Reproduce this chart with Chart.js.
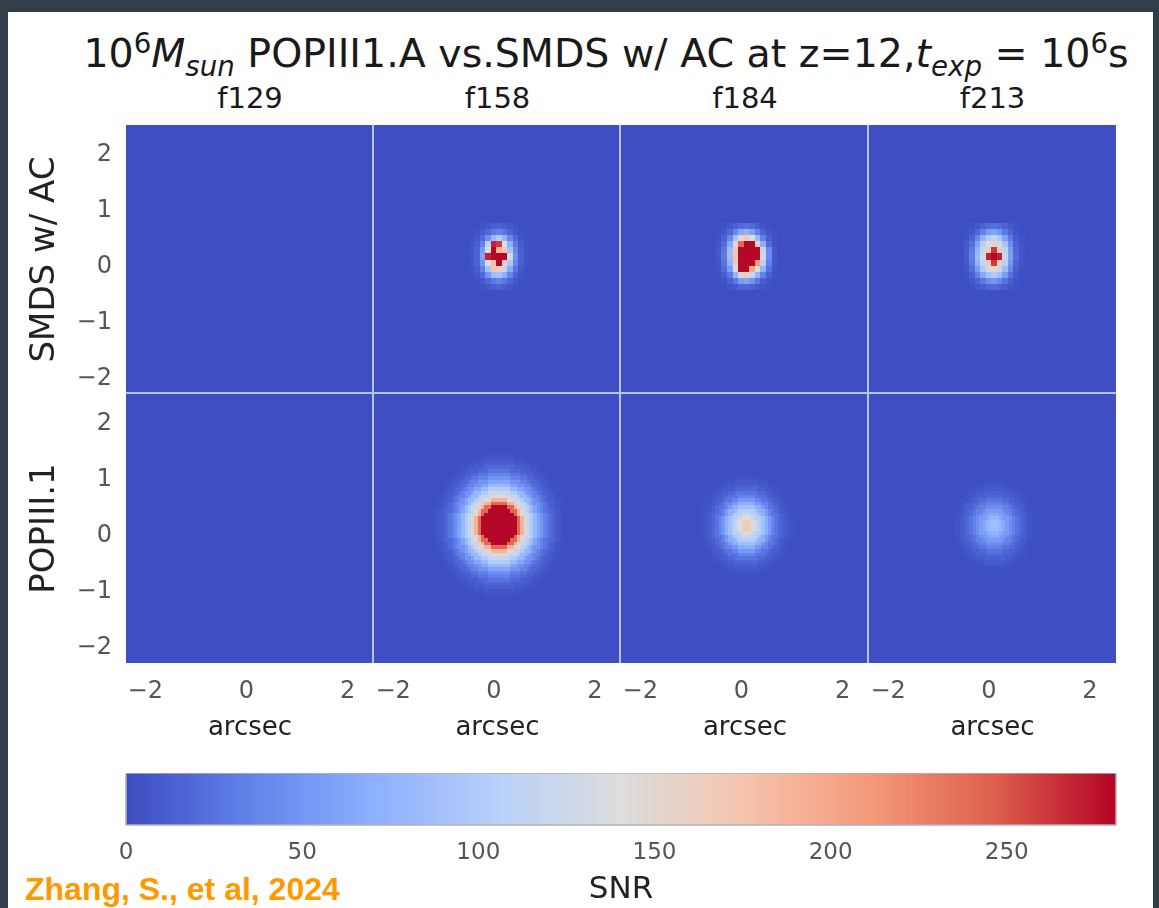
<!DOCTYPE html>
<html>
<head>
<meta charset="utf-8">
<script src="https://cdn.jsdelivr.net/npm/chart.js@4.4.1/dist/chart.umd.min.js"></script>
<style>
body{margin:0;width:1159px;height:908px;overflow:hidden;position:relative;background:#313d48;font-family:"DejaVu Sans",sans-serif}
#sheet{position:absolute;left:8px;top:12px;width:1145px;height:896px;background:#fff}
canvas{position:absolute}
.txt{position:absolute;white-space:nowrap;transform:translate(-50%,-50%);color:#1a1a1a;line-height:1}
.txt sup,.txt sub{font-size:0.7em;line-height:0}
#cite{position:absolute;left:25px;top:889px;transform:translateY(-50%);font-family:"Liberation Sans",Arial,sans-serif;font-weight:bold;font-size:32px;color:#ff9900;white-space:nowrap}
</style>
</head>
<body>
<div id="sheet"></div>
<div class="txt" style="left:606px;top:54px;font-size:39.5px">10<sup>6</sup><i>M</i><sub><i>sun</i></sub> POPIII1.A vs.SMDS w/ AC at z=12,<i>t</i><sub><i>exp</i></sub> = 10<sup>6</sup>s</div>
<div id="cite">Zhang, S., et al, 2024</div>
<script>
const filters = ["f129", "f158", "f184", "f213"];
const rowLabels = ["SMDS w/ AC", "POPIII.1"];
const xTicks = [-2, 0, 2];
const yTicks = [-2, -1, 0, 1, 2];
const cbarTicks = [0, 50, 100, 150, 200, 250];
const snrMax = 281;
const xRange = [-2.38, 2.52];
const yRange = [-2.27, 2.54];
const srcCenter = [0.1, 0.19];
const bgSNR = 2;

// SMDS w/ AC: 0.11" pixels, 11x11 SNR stamps around the source (first row = top)
const smdsPix = 0.11;
const smdsF158 = [
  [2, 3, 5, 8, 12, 14, 12, 8, 5, 3, 2],
  [3, 5, 10, 18, 30, 35, 28, 16, 8, 4, 2],
  [4, 8, 20, 45, 80, 100, 75, 40, 18, 6, 3],
  [5, 12, 35, 110, 270, 260, 140, 70, 30, 10, 4],
  [6, 15, 55, 140, 280, 190, 170, 90, 40, 12, 4],
  [6, 16, 60, 270, 280, 280, 280, 130, 45, 14, 4],
  [5, 14, 50, 140, 180, 280, 160, 95, 38, 12, 4],
  [4, 10, 35, 90, 170, 160, 120, 65, 28, 8, 3],
  [3, 7, 18, 50, 85, 90, 70, 38, 15, 6, 2],
  [2, 4, 8, 18, 30, 35, 28, 16, 8, 4, 2],
  [2, 3, 4, 8, 12, 14, 12, 8, 4, 3, 2]
];
const smdsF184 = [
  [2, 4, 8, 14, 20, 24, 20, 12, 6, 3, 2],
  [3, 8, 18, 40, 65, 75, 60, 35, 15, 6, 3],
  [5, 14, 40, 90, 150, 170, 140, 80, 35, 12, 4],
  [6, 22, 65, 150, 240, 280, 280, 160, 70, 20, 6],
  [8, 28, 85, 170, 280, 280, 280, 280, 120, 40, 8],
  [8, 30, 85, 175, 280, 280, 280, 280, 130, 42, 8],
  [7, 26, 75, 165, 280, 280, 280, 210, 110, 35, 7],
  [5, 20, 55, 135, 280, 280, 200, 140, 75, 25, 5],
  [4, 12, 30, 75, 150, 160, 120, 75, 35, 12, 4],
  [3, 6, 14, 30, 55, 60, 48, 28, 12, 5, 2],
  [2, 3, 6, 10, 16, 18, 14, 9, 5, 3, 2]
];
const smdsF213 = [
  [2, 4, 8, 14, 20, 24, 20, 14, 8, 4, 2],
  [4, 8, 18, 35, 55, 60, 50, 30, 15, 6, 3],
  [6, 15, 40, 75, 100, 110, 95, 60, 30, 10, 4],
  [8, 25, 60, 105, 135, 155, 130, 90, 45, 15, 5],
  [10, 30, 75, 120, 165, 260, 165, 110, 55, 18, 6],
  [10, 32, 80, 130, 270, 280, 270, 120, 58, 20, 6],
  [8, 30, 72, 120, 165, 260, 160, 105, 50, 16, 5],
  [6, 22, 55, 100, 130, 145, 120, 85, 40, 12, 4],
  [5, 14, 35, 65, 90, 100, 85, 55, 25, 8, 3],
  [3, 8, 16, 30, 45, 50, 40, 25, 12, 5, 2],
  [2, 4, 8, 12, 18, 20, 16, 10, 6, 3, 2]
];
const smdsStamps = [null, smdsF158, smdsF184, smdsF213];

// POPIII.1: 0.065" pixels, SNR per ring of radius 0, 1, 2, ... pixels
const popPix = 0.065;
const popF129 = [];
const popF158 = [280, 280, 280, 280, 280, 280, 240, 190, 150, 120, 100, 80, 62, 48, 36, 26, 18, 12, 8, 5, 3];
const popF184 = [175, 165, 145, 125, 105, 88, 70, 52, 38, 26, 18, 12, 8, 5, 3];
const popF213 = [88, 84, 76, 66, 55, 45, 35, 26, 19, 13, 9, 6, 4, 2];
const popProfiles = [popF129, popF158, popF184, popF213];

// coolwarm colour stops
const cmapStops = [
  [59, 76, 192], [98, 130, 234], [141, 176, 254], [184, 208, 249], [221, 221, 221],
  [245, 196, 173], [244, 154, 123], [222, 96, 77], [180, 4, 38]
];

function snrColor(v) {
  const t = Math.min(Math.max(v / snrMax, 0), 1) * (cmapStops.length - 1);
  const k = Math.min(Math.floor(t), cmapStops.length - 2), f = t - k;
  const a = cmapStops[k], b = cmapStops[k + 1];
  return "rgb(" + a.map((c, n) => Math.round(c + (b[n] - c) * f)).join(",") + ")";
}

function stampValue(stamp, i, j) {
  if (!stamp) return bgSNR;
  const half = (stamp.length - 1) / 2;
  const row = half - j, col = i + half;
  if (row < 0 || row >= stamp.length || col < 0 || col >= stamp[0].length) return bgSNR;
  return Math.max(stamp[row][col], bgSNR);
}

function ringValue(profile, i, j) {
  const r = Math.round(Math.hypot(i, j));
  return r < profile.length ? Math.max(profile[r], bgSNR) : bgSNR;
}

const minus = v => (v < 0 ? "\u2212" + Math.abs(v) : String(v));

// paints the image cells through the panel's x/y scales
const heatmap = {
  id: "heatmap",
  beforeDatasetsDraw(chart, args, opts) {
    const {ctx, chartArea: a, scales: {x, y}} = chart;
    const p = opts.pix, h = p / 2;
    ctx.save();
    ctx.beginPath();
    ctx.rect(a.left, a.top, a.right - a.left, a.bottom - a.top);
    ctx.clip();
    const i0 = Math.floor((xRange[0] - srcCenter[0]) / p) - 1, i1 = Math.ceil((xRange[1] - srcCenter[0]) / p) + 1;
    const j0 = Math.floor((yRange[0] - srcCenter[1]) / p) - 1, j1 = Math.ceil((yRange[1] - srcCenter[1]) / p) + 1;
    for (let i = i0; i <= i1; i++) {
      const cx = srcCenter[0] + i * p;
      const px0 = Math.round(x.getPixelForValue(cx - h)), px1 = Math.round(x.getPixelForValue(cx + h));
      for (let j = j0; j <= j1; j++) {
        const cy = srcCenter[1] + j * p;
        const py0 = Math.round(y.getPixelForValue(cy + h)), py1 = Math.round(y.getPixelForValue(cy - h));
        ctx.fillStyle = snrColor(opts.value(i, j));
        ctx.fillRect(px0, py0, px1 - px0, py1 - py0);
      }
    }
    ctx.restore();
  },
  afterDraw(chart, args, opts) {
    const {ctx, chartArea: a} = chart;
    ctx.save();
    ctx.strokeStyle = "rgba(225,230,250,0.75)";
    ctx.lineWidth = 2;
    ctx.beginPath();
    if (opts.rightEdge) { ctx.moveTo(a.right - 1, a.top); ctx.lineTo(a.right - 1, a.bottom); }
    if (opts.bottomEdge) { ctx.moveTo(a.left, a.bottom - 1); ctx.lineTo(a.right, a.bottom - 1); }
    ctx.stroke();
    ctx.restore();
  }
};

const colEdges = [126, 374, 621, 869, 1116];
const rowEdges = [125, 394, 663];
const yAxisW = 105, xAxisH = 85;
const tickFont = {family: "DejaVu Sans", size: 24};
const xLabelFont = {family: "DejaVu Sans", size: 26};
const yLabelFont = {family: "DejaVu Sans", size: 34};

function noPad(s) { s.paddingLeft = 0; s.paddingRight = 0; s.paddingTop = 0; s.paddingBottom = 0; }

function addCanvas(left, top, w, h) {
  const cv = document.createElement("canvas");
  cv.width = w; cv.height = h;
  cv.style.left = left + "px"; cv.style.top = top + "px";
  cv.style.width = w + "px"; cv.style.height = h + "px";
  document.body.appendChild(cv);
  return cv;
}

filters.forEach((f, c) => {
  const t = document.createElement("div");
  t.className = "txt";
  t.style.cssText = `left:${(colEdges[c] + colEdges[c + 1]) / 2}px;top:98px;font-size:29px`;
  t.textContent = f;
  document.body.appendChild(t);
});

for (let r = 0; r < 2; r++) {
  for (let c = 0; c < 4; c++) {
    const first = c === 0, bottom = r === 1;
    const left = colEdges[c] - (first ? yAxisW : 0);
    const w = colEdges[c + 1] - left;
    const h = rowEdges[r + 1] - rowEdges[r] + (bottom ? xAxisH : 0);
    const cv = addCanvas(left, rowEdges[r], w, h);
    const value = r === 0
      ? (i, j) => stampValue(smdsStamps[c], i, j)
      : (i, j) => ringValue(popProfiles[c], i, j);
    new Chart(cv, {
      type: "scatter",
      data: {datasets: []},
      options: {
        responsive: false,
        animation: false,
        layout: {padding: 0, autoPadding: false},
        plugins: {
          legend: {display: false},
          tooltip: {enabled: false},
          heatmap: {pix: r === 0 ? smdsPix : popPix, value, rightEdge: c < 3, bottomEdge: r === 0}
        },
        scales: {
          x: {
            type: "linear", min: xRange[0], max: xRange[1], display: bottom,
            afterBuildTicks: s => { s.ticks = xTicks.map(v => ({value: v})); },
            afterFit: s => { s.height = bottom ? xAxisH : 0; noPad(s); },
            grid: {display: false, drawTicks: false},
            border: {display: false},
            ticks: {padding: 14, color: "#555", font: tickFont, maxRotation: 0, autoSkip: false, callback: minus},
            title: {display: true, text: "arcsec", color: "#222", font: xLabelFont, padding: {top: 4, bottom: 4}}
          },
          y: {
            type: "linear", min: yRange[0], max: yRange[1], display: first,
            afterBuildTicks: s => { s.ticks = yTicks.map(v => ({value: v})); },
            afterFit: s => { s.width = first ? yAxisW : 0; noPad(s); },
            grid: {display: false, drawTicks: false},
            border: {display: false},
            ticks: {padding: 14, color: "#555", font: tickFont, autoSkip: false, callback: minus},
            title: {display: true, text: rowLabels[r], color: "#222", font: yLabelFont, padding: {top: 4, bottom: 4}}
          }
        }
      },
      plugins: [heatmap]
    });
  }
}

// colour bar: one strip per SNR unit along its own scale
const cbarStrip = {
  id: "cbarStrip",
  beforeDatasetsDraw(chart) {
    const {ctx, chartArea: a, scales: {x}} = chart;
    for (let v = 0; v < snrMax; v++) {
      const x0 = Math.round(x.getPixelForValue(v)), x1 = Math.round(x.getPixelForValue(v + 1));
      ctx.fillStyle = snrColor(v + 0.5);
      ctx.fillRect(x0, a.top, x1 - x0, a.bottom - a.top);
    }
    ctx.save();
    ctx.strokeStyle = "#b3b3b3";
    ctx.lineWidth = 1.5;
    ctx.strokeRect(a.left, a.top, a.right - a.left, a.bottom - a.top);
    ctx.restore();
  }
};

const cbTop = 773, cbBottom = 825, cbAxisH = 88;
const cbCanvas = addCanvas(100, cbTop, 1040, cbBottom - cbTop + cbAxisH);
new Chart(cbCanvas, {
  type: "scatter",
  data: {datasets: []},
  options: {
    responsive: false,
    animation: false,
    layout: {padding: {left: 26, right: 24, top: 0, bottom: 0}, autoPadding: false},
    plugins: {legend: {display: false}, tooltip: {enabled: false}},
    scales: {
      x: {
        type: "linear", min: 0, max: snrMax,
        afterBuildTicks: s => { s.ticks = cbarTicks.map(v => ({value: v})); },
        afterFit: s => { s.height = cbAxisH; noPad(s); },
        grid: {display: false, drawTicks: false},
        border: {display: false},
        ticks: {padding: 14, color: "#555", font: {family: "DejaVu Sans", size: 23}, maxRotation: 0, autoSkip: false},
        title: {display: true, text: "SNR", color: "#222", font: {family: "DejaVu Sans", size: 31}, padding: {top: 4, bottom: 4}}
      },
      y: {type: "linear", min: 0, max: 1, display: false}
    }
  },
  plugins: [cbarStrip]
});
</script>
</body>
</html>
